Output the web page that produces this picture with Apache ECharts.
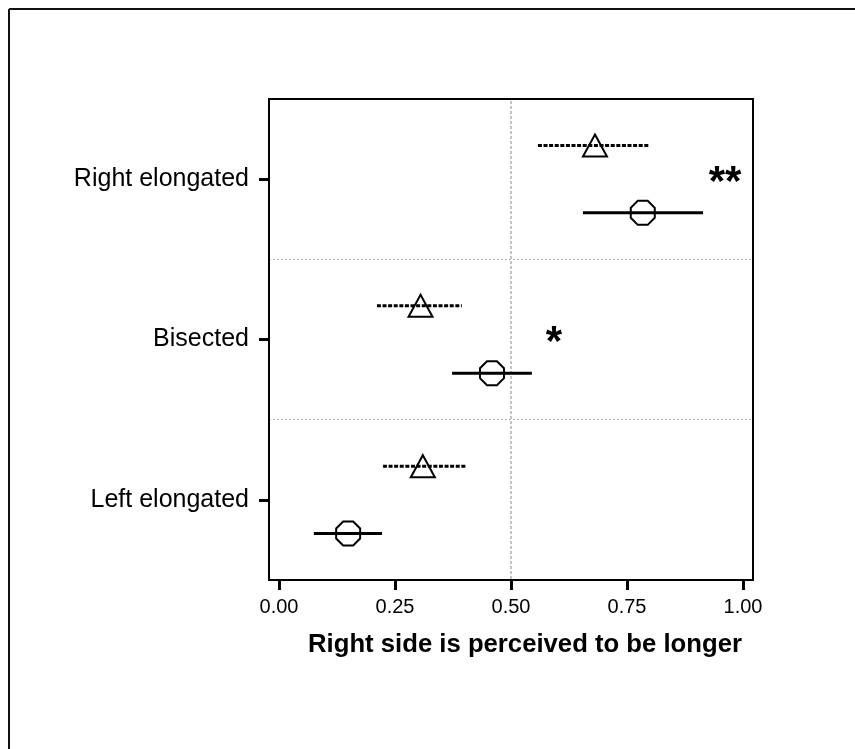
<!DOCTYPE html>
<html>
<head>
<meta charset="utf-8">
<script src="https://cdn.jsdelivr.net/npm/echarts@6/dist/echarts.min.js"></script>
<style>
  html, body { margin: 0; padding: 0; background: #fff; }
  #chart { width: 855px; height: 749px; }
</style>
</head>
<body>
<div id="chart"></div>
<script>
// Conditions, bottom to top
const categories = ['Left elongated', 'Bisected', 'Right elongated'];

// Triangle group (dashed interval)
const triLow  = [0.224, 0.211, 0.558];
const triMean = [0.310, 0.305, 0.681];
const triHigh = [0.405, 0.394, 0.797];

// Circle group (solid interval)
const circLow  = [0.075, 0.373, 0.655];
const circMean = [0.149, 0.459, 0.784];
const circHigh = [0.222, 0.545, 0.914];

// Significance marks per condition
const sigMarks = ['', '*', '**'];

// Axis ticks
const xTicks = [0, 0.25, 0.5, 0.75, 1];
const refValue = 0.5;

const chart = echarts.init(document.getElementById('chart'), null, { renderer: 'canvas' });

function octagon(cx, cy, r) {
  const R = r / Math.cos(Math.PI / 8);
  const pts = [];
  for (let k = 0; k < 8; k++) {
    const a = Math.PI / 8 + k * Math.PI / 4;
    pts.push([cx + R * Math.cos(a), cy + R * Math.sin(a)]);
  }
  return pts;
}

function intervalRenderer(shape, dashed, dir) {
  return function (params, api) {
    const cat = api.value(0);
    const band = api.size([0, 1])[1];
    const dy = dir * band * 0.21;
    const pL = api.coord([api.value(1), cat]);
    const pM = api.coord([api.value(2), cat]);
    const pH = api.coord([api.value(3), cat]);
    const y = pM[1] + dy;
    const children = [{
      type: 'line',
      shape: { x1: pL[0], y1: y, x2: pH[0], y2: y },
      style: { stroke: '#000', lineWidth: 3, lineDash: dashed ? [4, 1.6] : null }
    }];
    let pts;
    if (shape === 'triangle') {
      pts = [[pM[0], y - 11], [pM[0] + 12, y + 11], [pM[0] - 12, y + 11]];
    } else {
      pts = octagon(pM[0], y, 12);
    }
    children.push({
      type: 'polygon',
      shape: { points: pts },
      style: { fill: 'transparent', stroke: '#000', lineWidth: 2 }
    });
    return { type: 'group', children: children };
  };
}

const triData = categories.map((c, i) => [i, triLow[i], triMean[i], triHigh[i]]);
const circData = categories.map((c, i) => [i, circLow[i], circMean[i], circHigh[i]]);
const sigData = categories.map((c, i) => [i, Math.max(triHigh[i], circHigh[i])]);

const option = {
  backgroundColor: '#fff',
  animation: false,
  grid: {
    left: 269, top: 99, width: 484, height: 481,
    show: false
  },
  xAxis: {
    type: 'value',
    min: -0.0216,
    max: 1.0216,
    name: 'Right side is perceived to be longer',
    nameLocation: 'middle',
    nameGap: 52,
    nameTextStyle: {
      fontFamily: 'Liberation Sans', fontSize: 25.7, fontWeight: 'bold', color: '#000',
      padding: [0, 0, 0, 28]
    },
    axisLine: { show: true, onZero: false, lineStyle: { color: '#000', width: 2 } },
    axisTick: { show: true, customValues: xTicks, length: 10, lineStyle: { color: '#000', width: 3 } },
    axisLabel: {
      customValues: xTicks, formatter: v => v.toFixed(2),
      fontFamily: 'Liberation Sans', fontSize: 20, color: '#000', margin: 17
    },
    splitLine: { show: false }
  },
  yAxis: {
    type: 'category',
    data: categories,
    axisLine: { show: true, onZero: false, lineStyle: { color: '#000', width: 2 } },
    axisTick: { show: true, alignWithLabel: true, length: 10, lineStyle: { color: '#000', width: 3 } },
    axisLabel: { fontFamily: 'Liberation Sans', fontSize: 25, color: '#000', margin: 20 },
    splitLine: { show: true, lineStyle: { type: [1.5, 2.5], color: '#999', width: 1 } }
  },
  graphic: [
    { type: 'line', shape: { x1: 9, y1: 9, x2: 855, y2: 9 }, style: { stroke: '#111', lineWidth: 2 } },
    { type: 'line', shape: { x1: 9, y1: 9, x2: 9, y2: 749 }, style: { stroke: '#111', lineWidth: 2 } }
  ],
  series: [
    {
      // reference line at chance level
      type: 'custom',
      data: [[refValue]],
      encode: { x: 0 },
      silent: true,
      z: 1,
      renderItem: function (params, api) {
        const cs = params.coordSys;
        const x = api.coord([api.value(0), 0])[0];
        return {
          type: 'line',
          shape: { x1: x, y1: cs.y + 2, x2: x, y2: cs.y + cs.height },
          style: { stroke: '#888', lineWidth: 1, lineDash: [3, 2] }
        };
      }
    },
    {
      // plot frame
      type: 'custom',
      data: [[0]],
      encode: { x: 0 },
      silent: true,
      z: 5,
      renderItem: function (params) {
        const cs = params.coordSys;
        return {
          type: 'rect',
          shape: { x: cs.x, y: cs.y, width: cs.width, height: cs.height },
          style: { fill: 'transparent', stroke: '#000', lineWidth: 2 }
        };
      }
    },
    {
      type: 'custom',
      data: triData,
      encode: { y: 0, x: [1, 2, 3] },
      z: 3,
      renderItem: intervalRenderer('triangle', true, -1)
    },
    {
      type: 'custom',
      data: circData,
      encode: { y: 0, x: [1] },
      z: 3,
      renderItem: intervalRenderer('octagon', false, 1)
    },
    {
      type: 'custom',
      data: sigData,
      encode: { y: 0, x: 1 },
      z: 4,
      renderItem: function (params, api) {
        const p = api.coord([api.value(1), api.value(0)]);
        return {
          type: 'text',
          style: {
            x: p[0] + 22, y: p[1] + 4,
            text: sigMarks[params.dataIndex],
            fontFamily: 'Liberation Sans', fontWeight: 'bold', fontSize: 42,
            fill: '#000', align: 'center', verticalAlign: 'middle'
          }
        };
      }
    }
  ]
};

chart.setOption(option);
</script>
</body>
</html>
